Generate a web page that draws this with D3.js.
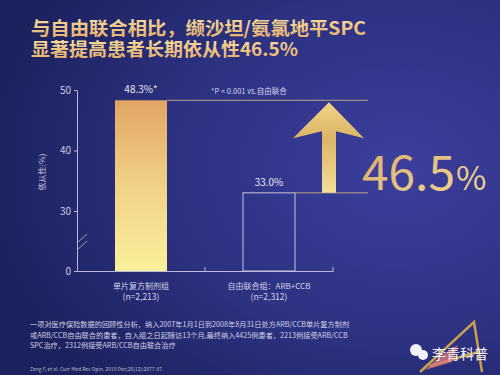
<!DOCTYPE html>
<html>
<head>
<meta charset="utf-8">
<script src="https://cdn.jsdelivr.net/npm/d3@7"></script>
<style>
  html, body { margin: 0; padding: 0; background: #1e2462; }
  svg { display: block; }
  text { font-family: "Noto Sans CJK SC", "Liberation Sans", sans-serif; }
</style>
</head>
<body>
<div id="chart"></div>
<script>
// chart data
const categories = ['单片复方制剂组', '自由联合组：ARB+CCB'];
const groupN = ['(n=2,213)', '(n=2,312)'];
const adherence = [48.3, 33.0];
const barLabels = ['48.3%*', '33.0%'];
const yTicks = [0, 30, 40, 50];
const increaseValue = '46.5';

const titleLines = ['与自由联合相比，缬沙坦/氨氯地平SPC', '显著提高患者长期依从性46.5%'];
const noteLines = [
  '一项对医疗保险数据的回顾性分析，纳入2007年1月1日到2008年8月31日处方ARB/CCB单片复方制剂',
  '或ARB/CCB自由联合的患者，自入组之日起随访13个月,最终纳入4425例患者，2213例接受ARB/CCB',
  'SPC治疗，2312例接受ARB/CCB自由联合治疗'
];
const citation = 'Zeng F, et al. Curr Med Res Opin. 2010 Dec;26(12):2877-87.';
const pNote = '*P < 0.001 vs.自由联合';

let width = 500, height = 375;
let svg = d3.select('#chart').append('svg')
            .attr('width', width)
            .attr('height', height);

let defs = svg.append('defs');

// background
let bg = defs.append('radialGradient')
             .attr('id', 'bg')
             .attr('cx', '0.8').attr('cy', '0.45').attr('r', '0.85');
bg.append('stop').attr('offset', '0').attr('stop-color', '#3c3f9c');
bg.append('stop').attr('offset', '0.55').attr('stop-color', '#2c3181');
bg.append('stop').attr('offset', '1').attr('stop-color', '#1b215c');

let gold = defs.append('linearGradient')
               .attr('id', 'barGold')
               .attr('x1', 0).attr('y1', 0).attr('x2', 0).attr('y2', 1);
gold.append('stop').attr('offset', '0').attr('stop-color', '#e2a564');
gold.append('stop').attr('offset', '0.5').attr('stop-color', '#f1d187');
gold.append('stop').attr('offset', '1').attr('stop-color', '#faf09c');

let titleGold = defs.append('linearGradient')
                    .attr('id', 'titleGold')
                    .attr('x1', 0).attr('y1', 0).attr('x2', 0).attr('y2', 1);
titleGold.append('stop').attr('offset', '0').attr('stop-color', '#f7e6a4');
titleGold.append('stop').attr('offset', '1').attr('stop-color', '#e6ab68');

let arrowGold = defs.append('linearGradient')
                    .attr('id', 'arrowGold')
                    .attr('x1', 0).attr('y1', 0).attr('x2', 0).attr('y2', 1);
arrowGold.append('stop').attr('offset', '0').attr('stop-color', '#f0d388');
arrowGold.append('stop').attr('offset', '0.4').attr('stop-color', '#dcb466');
arrowGold.append('stop').attr('offset', '1').attr('stop-color', '#f3df98');

let bigGold = defs.append('linearGradient')
                  .attr('id', 'bigGold')
                  .attr('x1', 0).attr('y1', 0).attr('x2', 1).attr('y2', 1);
bigGold.append('stop').attr('offset', '0').attr('stop-color', '#d9a865');
bigGold.append('stop').attr('offset', '1').attr('stop-color', '#f2dc9c');

svg.append('rect')
   .attr('width', width).attr('height', height)
   .attr('fill', 'url(#bg)');

// title, stretched to the widths seen in the slide
let titleWidths = [335, 267];
svg.append('g').selectAll('text')
   .data(titleLines)
   .enter().append('text')
     .attr('x', 31)
     .attr('y', (d, i) => 35 + i * 21)
     .attr('font-size', 18.5)
     .attr('font-weight', 'bold')
     .attr('fill', 'url(#titleGold)')
     .attr('textLength', (d, i) => titleWidths[i])
     .attr('lengthAdjust', 'spacingAndGlyphs')
     .text((d) => d);

// scales
let xScale = d3.scaleBand()
               .domain(categories)
               .range([77, 333]);
let barWidth = 52;

// broken axis: 0 sits directly below 30
let yScale = d3.scaleLinear()
               .domain([0, 30, 50])
               .range([271, 211, 90]);

let axisColor = '#b9bcd6';

// y axis
let yAxis = svg.append('g')
               .attr('transform', 'translate(77,0)')
               .call(d3.axisLeft(yScale).tickValues(yTicks).tickSize(3).tickSizeOuter(0));
yAxis.select('.domain').attr('stroke', axisColor);
yAxis.selectAll('.tick line').attr('stroke', axisColor);
yAxis.selectAll('.tick text')
     .attr('fill', '#c9cce2')
     .attr('font-size', 10)
     .attr('font-family', 'Liberation Sans, sans-serif')
     .attr('x', -6);

// axis break marks
let breakY = [250, 243];
svg.append('g').selectAll('line')
   .data(breakY)
   .enter().append('line')
     .attr('x1', 77).attr('y1', (d) => d)
     .attr('x2', 87).attr('y2', (d) => d - 9)
     .attr('stroke', axisColor)
     .attr('stroke-width', 0.8);

// x axis
let xAxis = svg.append('g')
               .attr('transform', 'translate(0,' + yScale(0) + ')')
               .call(d3.axisBottom(xScale).tickSize(0).tickFormat(''));
xAxis.select('.domain').attr('stroke', axisColor);
let xDividers = categories.map((c) => xScale(c) + xScale.bandwidth());
svg.append('g').selectAll('line')
   .data(xDividers)
   .enter().append('line')
     .attr('x1', (d) => d).attr('x2', (d) => d)
     .attr('y1', yScale(0)).attr('y2', yScale(0) - 4)
     .attr('stroke', axisColor);

// y axis title
svg.append('text')
   .attr('transform', 'translate(45,' + 172 + ') rotate(-90)')
   .attr('text-anchor', 'middle')
   .attr('font-size', 8)
   .attr('fill', '#c3c6de')
   .text('依从性(%)');

// bars
let barX = (i) => xScale(categories[i]) + (xScale.bandwidth() - barWidth) / 2;
svg.append('g').selectAll('rect')
   .data(adherence)
   .enter().append('rect')
     .attr('x', (d, i) => barX(i))
     .attr('y', (d) => yScale(d))
     .attr('width', barWidth)
     .attr('height', (d) => yScale(0) - yScale(d))
     .attr('fill', (d, i) => i == 0 ? 'url(#barGold)' : 'none')
     .attr('stroke', (d, i) => i == 0 ? 'none' : '#c6c8dc')
     .attr('stroke-width', 1);

// value labels
svg.append('g').selectAll('text')
   .data(adherence)
   .enter().append('text')
     .attr('x', (d, i) => barX(i) + barWidth / 2)
     .attr('y', (d) => yScale(d) - 7)
     .attr('text-anchor', 'middle')
     .attr('font-size', 10)
     .attr('font-family', 'Liberation Sans, sans-serif')
     .attr('fill', '#e6e7f2')
     .text((d, i) => barLabels[i]);

// category labels
let catLabels = svg.append('g').selectAll('g')
                   .data(categories)
                   .enter().append('g');
catLabels.append('text')
   .attr('x', (d) => xScale(d) + xScale.bandwidth() / 2)
   .attr('y', 289)
   .attr('text-anchor', 'middle')
   .attr('font-size', 8)
   .attr('fill', '#d3d5e6')
   .text((d) => d);
catLabels.append('text')
   .attr('x', (d) => xScale(d) + xScale.bandwidth() / 2)
   .attr('y', 300)
   .attr('text-anchor', 'middle')
   .attr('font-size', 8.5)
   .attr('font-family', 'Liberation Sans, sans-serif')
   .attr('fill', '#d3d5e6')
   .text((d, i) => groupN[i]);

// reference lines from the bar tops
let lineEnd = 368;
svg.append('g').selectAll('line')
   .data(adherence)
   .enter().append('line')
     .attr('x1', (d, i) => barX(i) + barWidth)
     .attr('x2', lineEnd)
     .attr('y1', (d) => yScale(d))
     .attr('y2', (d) => yScale(d))
     .attr('stroke', '#c4b184')
     .attr('stroke-width', 0.9);

// significance note
svg.append('text')
   .attr('x', 211)
   .attr('y', 94)
   .attr('font-size', 7.5)
   .attr('fill', '#d6d8ea')
   .text(pNote);

// arrow between the two levels
let yTop = yScale(adherence[0]), yBottom = yScale(adherence[1]);
let ax = 329;
let arrowPath = d3.path();
arrowPath.moveTo(ax, yTop + 2);
arrowPath.lineTo(ax + 35, yTop + 38);
arrowPath.lineTo(ax + 7, yTop + 31);
arrowPath.lineTo(ax + 7, yBottom);
arrowPath.lineTo(ax - 7, yBottom);
arrowPath.lineTo(ax - 7, yTop + 31);
arrowPath.lineTo(ax - 36, yTop + 38);
arrowPath.closePath();
svg.append('path')
   .attr('d', arrowPath.toString())
   .attr('fill', 'url(#arrowGold)');

// increase label
let big = svg.append('text')
             .attr('x', 362)
             .attr('y', 190)
             .attr('fill', 'url(#bigGold)')
             .attr('font-family', 'Liberation Sans, sans-serif');
big.append('tspan')
   .attr('font-size', 47)
   .attr('textLength', 93)
   .attr('lengthAdjust', 'spacingAndGlyphs')
   .text(increaseValue);
big.append('tspan')
   .attr('font-size', 33)
   .attr('dx', 1)
   .text('%');

// footnote
svg.append('g').selectAll('text')
   .data(noteLines)
   .enter().append('text')
     .attr('x', 30)
     .attr('y', (d, i) => 327 + i * 10.5)
     .attr('font-size', 7.2)
     .attr('fill', '#cfd1e4')
     .text((d) => d);

svg.append('text')
   .attr('x', 30)
   .attr('y', 371)
   .attr('font-size', 5)
   .attr('font-family', 'Liberation Sans, sans-serif')
   .attr('fill', '#b8bbd4')
   .text(citation);

// watermark in the corner
let mark = svg.append('g');
mark.append('path')
    .attr('d', 'M420,372 L474,322 L482,372 M430,366 L478,352')
    .attr('fill', 'none')
    .attr('stroke', '#c9a04e')
    .attr('stroke-width', 2.5);
mark.append('path')
    .attr('d', 'M425,370 Q440,355 458,345 L452,362 Z')
    .attr('fill', '#d8787a')
    .attr('opacity', 0.8);
mark.append('circle').attr('cx', 416).attr('cy', 350).attr('r', 6).attr('fill', '#f2f2f6');
mark.append('circle').attr('cx', 423).attr('cy', 355).attr('r', 5).attr('fill', '#f2f2f6');
mark.append('text')
    .attr('x', 432)
    .attr('y', 359)
    .attr('font-size', 14)
    .attr('fill', '#f4f4f8')
    .text('李青科普');
</script>
</body>
</html>
